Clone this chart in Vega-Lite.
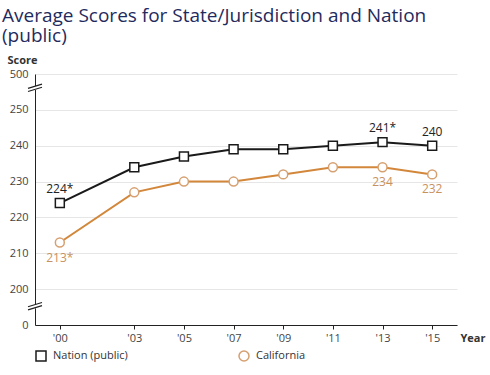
{
  "$schema": "https://vega.github.io/schema/vega-lite/v6.json",
  "autosize": "none",
  "width": 422,
  "height": 251,
  "padding": {"left": 35, "top": 74, "right": 33, "bottom": 50},
  "background": "white",
  "title": {
    "text": ["Average Scores for State/Jurisdiction and Nation", "(public)"],
    "anchor": "start",
    "frame": "group",
    "dx": -33,
    "fontSize": 19,
    "lineHeight": 20.5,
    "font": "Open Sans",
    "fontWeight": "normal",
    "color": "#1f2b5e",
    "offset": 8
  },
  "config": {
    "view": {"stroke": null},
    "font": "Open Sans",
    "axis": {"labelOverlap": false, "labelBound": false, "labelSeparation": 0}
  },
  "resolve": {"scale": {"color": "independent"}, "legend": {"color": "independent", "shape": "independent"}},
  "datasets": {
    "scores": [
      {"series": "Nation (public)", "year": 2000, "score": 224, "label": "224*"},
      {"series": "Nation (public)", "year": 2003, "score": 234, "label": ""},
      {"series": "Nation (public)", "year": 2005, "score": 237, "label": ""},
      {"series": "Nation (public)", "year": 2007, "score": 239, "label": ""},
      {"series": "Nation (public)", "year": 2009, "score": 239, "label": ""},
      {"series": "Nation (public)", "year": 2011, "score": 240, "label": ""},
      {"series": "Nation (public)", "year": 2013, "score": 241, "label": "241*"},
      {"series": "Nation (public)", "year": 2015, "score": 240, "label": "240"},
      {"series": "California", "year": 2000, "score": 213, "label": "213*"},
      {"series": "California", "year": 2003, "score": 227, "label": ""},
      {"series": "California", "year": 2005, "score": 230, "label": ""},
      {"series": "California", "year": 2007, "score": 230, "label": ""},
      {"series": "California", "year": 2009, "score": 232, "label": ""},
      {"series": "California", "year": 2011, "score": 234, "label": ""},
      {"series": "California", "year": 2013, "score": 234, "label": "234"},
      {"series": "California", "year": 2015, "score": 232, "label": "232"}
    ],
    "breaks": [
      {"year": 1999, "score": 256.1},
      {"year": 1999, "score": 195.2}
    ]
  },
  "data": {"name": "scores"},
  "encoding": {
    "x": {
      "field": "year", "type": "quantitative",
      "scale": {"domain": [1999, 2016], "nice": false, "zero": false},
      "axis": {
        "values": [2000, 2003, 2005, 2007, 2009, 2011, 2013, 2015],
        "labelExpr": "\"'\" + substring('' + datum.value, 2)",
        "grid": false,
        "tickSize": 4,
        "tickColor": "#222",
        "domainColor": "#222",
        "labelColor": "#444",
        "labelFontSize": 11,
        "labelPadding": 3,
        "title": "Year",
        "titleX": 425,
        "titleY": 13,
        "titleAlign": "left",
        "titleBaseline": "middle",
        "titleFontSize": 11,
        "titleFontWeight": "bold",
        "titleColor": "#333"
      }
    },
    "y": {
      "field": "score", "type": "quantitative",
      "scale": {"domain": [190, 260], "nice": false, "zero": false},
      "axis": {
        "values": [190, 200, 210, 220, 230, 240, 250, 260],
        "labelExpr": "datum.value == 260 ? '500' : datum.value == 190 ? '0' : datum.label",
        "grid": true,
        "gridColor": "#e6e6e6",
        "ticks": false,
        "domainColor": "#222",
        "labelColor": "#444",
        "labelFontSize": 11,
        "labelPadding": 7,
        "title": "Score",
        "titleAngle": 0,
        "titleX": -28,
        "titleY": -14,
        "titleAlign": "left",
        "titleBaseline": "middle",
        "titleFontSize": 11,
        "titleFontWeight": "bold",
        "titleColor": "#333"
      }
    }
  },
  "layer": [
    {
      "mark": {"type": "line", "strokeWidth": 2},
      "encoding": {
        "color": {
          "field": "series", "type": "nominal",
          "scale": {"domain": ["Nation (public)", "California"], "range": ["#1a1a1a", "#d2873b"]},
          "legend": null
        }
      }
    },
    {
      "mark": {"type": "point", "filled": false, "fill": "white", "strokeWidth": 1.5, "size": 80, "opacity": 1},
      "encoding": {
        "color": {
          "field": "series", "type": "nominal",
          "scale": {"domain": ["Nation (public)", "California"], "range": ["#1a1a1a", "#d6a070"]},
          "legend": {
            "title": null,
            "orient": "none",
            "legendX": 0,
            "legendY": 276,
            "direction": "horizontal",
            "columnPadding": 108,
            "labelOffset": 6,
            "labelFontSize": 11,
            "labelColor": "#333",
            "symbolSize": 100,
            "symbolStrokeWidth": 1.5,
            "symbolFillColor": "white"
          }
        },
        "shape": {
          "field": "series", "type": "nominal",
          "scale": {"domain": ["Nation (public)", "California"], "range": ["square", "circle"]},
          "legend": {
            "title": null,
            "orient": "none",
            "legendX": 0,
            "legendY": 276,
            "direction": "horizontal",
            "columnPadding": 108,
            "labelOffset": 6,
            "labelFontSize": 11,
            "labelColor": "#333",
            "symbolSize": 100,
            "symbolStrokeWidth": 1.5,
            "symbolFillColor": "white"
          }
        }
      }
    },
    {
      "transform": [{"filter": "datum.series == 'Nation (public)' && datum.label != ''"}],
      "mark": {"type": "text", "dy": -14, "fontSize": 12, "color": "#222"},
      "encoding": {"text": {"field": "label"}}
    },
    {
      "transform": [{"filter": "datum.series == 'California' && datum.label != ''"}],
      "mark": {"type": "text", "dy": 15, "fontSize": 12, "color": "#c8925f"},
      "encoding": {"text": {"field": "label"}}
    },
    {
      "data": {"name": "breaks"},
      "mark": {"type": "point", "shape": "square", "filled": true, "color": "white", "size": 16, "opacity": 1},
      "encoding": {}
    },
    {
      "data": {"name": "breaks"},
      "mark": {"type": "point", "shape": "M-1,0.05L1,-0.55M-1,0.5L1,-0.1", "filled": false, "color": "#222", "strokeWidth": 1.2, "size": 196, "opacity": 1},
      "encoding": {}
    }
  ]
}
